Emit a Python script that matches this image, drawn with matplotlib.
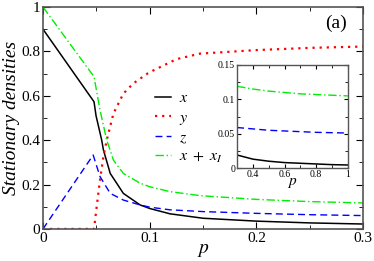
import matplotlib
matplotlib.use("Agg")
import matplotlib.pyplot as plt
from matplotlib.ticker import MultipleLocator

plt.rcParams['font.family'] = ['Liberation Serif', 'DejaVu Serif']
plt.rcParams['mathtext.fontset'] = 'stix'

# main panel
p_x = [0, 0.0478, 0.0497, 0.055, 0.0566, 0.063, 0.0753, 0.091, 0.1, 0.119, 0.15, 0.2, 0.25, 0.3]
x_vals = [0.9, 0.573, 0.51, 0.40, 0.356, 0.25, 0.16, 0.108, 0.092, 0.068, 0.048, 0.035, 0.027, 0.022]

p_y = [0, 0.0478, 0.0503, 0.0534, 0.0566, 0.0597, 0.066, 0.0753, 0.0847, 0.099, 0.125, 0.147, 0.2, 0.25, 0.3]
y_vals = [0, 0, 0.10, 0.22, 0.326, 0.40, 0.52, 0.61, 0.656, 0.704, 0.765, 0.79, 0.806, 0.816, 0.822]

p_z = [0, 0.047, 0.0534, 0.063, 0.0753, 0.091, 0.1, 0.119, 0.15, 0.2, 0.25, 0.3]
z_vals = [0, 0.333, 0.236, 0.16, 0.13, 0.108, 0.098, 0.086, 0.078, 0.07, 0.064, 0.06]

p_g = [0, 0.0478, 0.0534, 0.0597, 0.0628, 0.066, 0.0753, 0.091, 0.1, 0.119, 0.147, 0.2, 0.25, 0.3]
g_vals = [1.0, 0.686, 0.536, 0.40, 0.356, 0.31, 0.25, 0.206, 0.19, 0.168, 0.150, 0.133, 0.123, 0.117]

# inset
p_in = [0.3, 0.4, 0.5, 0.6, 0.7, 0.8, 0.9, 1.0]
x_in = [0.019, 0.013, 0.010, 0.008, 0.007, 0.006, 0.005, 0.0045]
z_in = [0.059, 0.057, 0.055, 0.054, 0.053, 0.052, 0.0515, 0.051]
g_in = [0.119, 0.115, 0.112, 0.110, 0.108, 0.107, 0.106, 0.105]

fig = plt.figure(figsize=(3.74, 2.61), dpi=100)
ax = fig.add_axes([0.115, 0.123, 0.856, 0.85])

ax.plot(p_x, x_vals, color='black', lw=1.1, ls='-', label=r'$x$')
ax.plot(p_y, y_vals, color='red', lw=1.6, ls=(0, (1, 2.2)), label=r'$y$')
ax.plot(p_z, z_vals, color='blue', lw=1.0, ls=(0, (5, 3)), label=r'$z$')
ax.plot(p_g, g_vals, color='#00ee00', lw=1.0, ls=(0, (6, 2, 1, 2)), label=r'$x\ +\ x_{I}$')

ax.set_xlim(0, 0.3)
ax.set_ylim(0, 1)
ax.set_xticks([0, 0.1, 0.2, 0.3])
ax.set_xticklabels(['0', '0.1', '0.2', '0.3'])
ax.xaxis.set_minor_locator(MultipleLocator(0.05))
ax.set_yticks([0, 0.2, 0.4, 0.6, 0.8, 1.0])
ax.set_yticklabels(['0', '0.2', '0.4', '0.6', '0.8', '1'])
ax.yaxis.set_minor_locator(MultipleLocator(0.1))
ax.tick_params(which='both', direction='in', top=True, right=True, labelsize=11, pad=2)
ax.tick_params(which='major', length=5)
ax.tick_params(which='minor', length=3)
for s in ax.spines.values():
    s.set_color('#555555')
    s.set_linewidth(1.2)
ax.set_xlabel(r'$p$', fontsize=14, labelpad=-2)
ax.set_ylabel('Stationary densities', fontsize=14, style='italic', labelpad=1)
ax.text(0.285, 0.925, '(a)', fontsize=14, ha='right', va='center')

ax.legend(loc='upper left', bbox_to_anchor=(0.325, 0.66), frameon=False, fontsize=11.5,
          handlelength=1.0, handletextpad=0.5, labelspacing=0.2, borderpad=0)

ins = fig.add_axes([0.634, 0.356, 0.296, 0.395])
ins.plot(p_in, x_in, color='black', lw=1.1)
ins.plot(p_in, z_in, color='blue', lw=1.0, ls=(0, (5, 3)))
ins.plot(p_in, g_in, color='#00ee00', lw=1.0, ls=(0, (6, 2, 1, 2)))
ins.set_xlim(0.3, 1)
ins.set_ylim(0, 0.15)
ins.set_xticks([0.4, 0.6, 0.8, 1.0])
ins.set_xticklabels(['0.4', '0.6', '0.8', '1'])
ins.xaxis.set_minor_locator(MultipleLocator(0.1))
ins.set_yticks([0, 0.05, 0.1, 0.15])
ins.set_yticklabels(['0', '0.05', '0.1', '0.15'])
ins.yaxis.set_minor_locator(MultipleLocator(0.025))
ins.tick_params(which='both', direction='in', top=True, right=True, labelsize=7, pad=1.5)
ins.tick_params(which='major', length=3)
ins.tick_params(which='minor', length=2)
for s in ins.spines.values():
    s.set_color('#555555')
    s.set_linewidth(1.0)
ins.set_xlabel(r'$p$', fontsize=11, labelpad=-2)

fig.savefig('out.png', dpi=100)
